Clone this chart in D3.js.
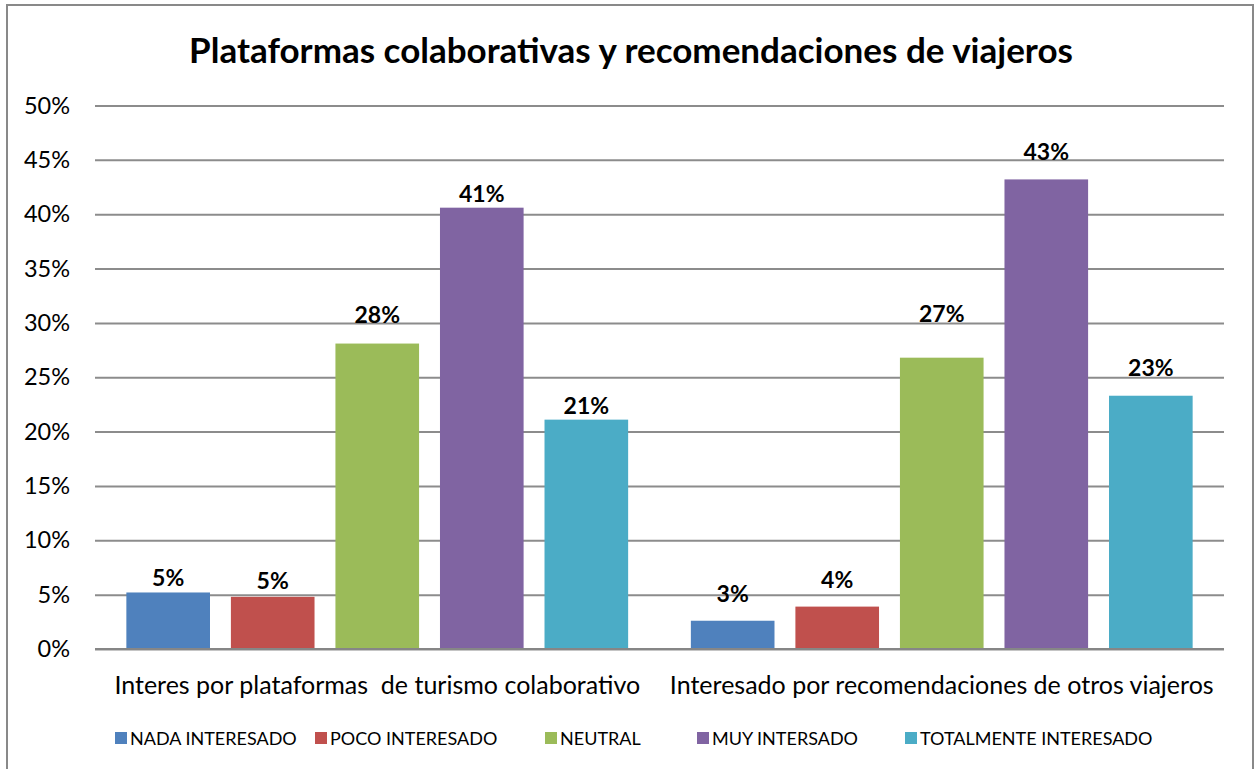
<!DOCTYPE html>
<html>
<head>
<meta charset="utf-8">
<script src="https://cdn.jsdelivr.net/npm/d3@7"></script>
<style>
  body { margin: 0; background: #fff; }
  svg { font-family: Lato, "Open Sans", sans-serif; }
</style>
</head>
<body>
<svg id="chart" width="1256" height="769"></svg>
<script>
// data
const categories = ['Interes por plataformas  de turismo colaborativo', 'Interesado por recomendaciones de otros viajeros'];
const seriesNames = ['NADA INTERESADO', 'POCO INTERESADO', 'NEUTRAL', 'MUY INTERSADO', 'TOTALMENTE INTERESADO'];
const seriesColors = ['#4F81BD', '#C0504D', '#9BBB59', '#8064A2', '#4BACC6'];
const nadaValues = [0.052, 0.026];
const pocoValues = [0.048, 0.039];
const neutralValues = [0.281, 0.268];
const muyValues = [0.406, 0.432];
const totalValues = [0.211, 0.233];
const yTicks = [0, 0.05, 0.10, 0.15, 0.20, 0.25, 0.30, 0.35, 0.40, 0.45, 0.50];

const seriesValues = [nadaValues, pocoValues, neutralValues, muyValues, totalValues];

const svg = d3.select('#chart');
const W = 1256, H = 769;
const margin = { top: 105.5, right: 32, bottom: 120, left: 95 };
const width = W - margin.left - margin.right;
const height = 649 - margin.top;

// outer border
svg.append('rect')
    .attr('x', 7).attr('y', 5)
    .attr('width', 1246).attr('height', 780)
    .attr('fill', 'none')
    .attr('stroke', '#898989')
    .attr('stroke-width', 2);

// title
svg.append('text')
    .attr('x', 631)
    .attr('y', 63)
    .attr('text-anchor', 'middle')
    .attr('font-size', '35px')
    .attr('font-weight', 'bold')
    .attr('fill', '#000')
    .text('Plataformas colaborativas y recomendaciones de viajeros');

const g = svg.append('g')
    .attr('transform', `translate(${margin.left},${margin.top})`);

const x0 = d3.scaleBand()
    .domain(categories)
    .range([0, width])
    .padding(0);

const x1 = d3.scaleBand()
    .domain(seriesNames)
    .range([0, x0.bandwidth()])
    .paddingInner(0.2)
    .paddingOuter(0.3);

const y = d3.scaleLinear()
    .domain([0, 0.5])
    .range([height, 0]);

// gridlines + y axis
const yAxis = g.append('g')
    .call(d3.axisLeft(y).tickValues(yTicks).tickSize(-width).tickFormat(d3.format('.0%')).tickPadding(25));
yAxis.select('.domain').remove();
yAxis.selectAll('.tick line')
    .attr('stroke', '#8c8c8c')
    .attr('stroke-width', 2);
yAxis.selectAll('.tick text')
    .attr('font-size', '23.5px')
    .attr('font-family', 'Lato, sans-serif')
    .attr('fill', '#000');

// bars
const rows = [];
categories.forEach((c, ci) => {
    seriesNames.forEach((s, si) => {
        rows.push({ cat: c, series: s, ci: ci, si: si, value: seriesValues[si][ci], color: seriesColors[si] });
    });
});

g.selectAll('rect.bar')
    .data(rows)
    .enter()
    .append('rect')
    .attr('class', 'bar')
    .attr('x', d => x0(d.cat) + x1(d.series))
    .attr('y', d => y(d.value))
    .attr('width', x1.bandwidth())
    .attr('height', d => height - y(d.value))
    .attr('fill', d => d.color);

// bar labels (hand-placed in the original, so lift varies per bar)
const labelLift = [[6, 8, 21, 6, 6], [19, 19, 36, 19, 20]];
g.selectAll('text.label')
    .data(rows)
    .enter()
    .append('text')
    .attr('class', 'label')
    .attr('x', d => x0(d.cat) + x1(d.series) + x1.bandwidth() / 2)
    .attr('y', d => y(d.value) - labelLift[d.ci][d.si])
    .attr('text-anchor', 'middle')
    .attr('font-size', '23px')
    .attr('font-weight', 'bold')
    .text(d => d3.format('.0%')(d.value));

// x axis line at 0%
g.append('line')
    .attr('x1', 0).attr('x2', width)
    .attr('y1', height).attr('y2', height)
    .attr('stroke', '#868686')
    .attr('stroke-width', 2);

// category labels
g.selectAll('text.cat')
    .data(categories)
    .enter()
    .append('text')
    .attr('class', 'cat')
    .attr('x', d => x0(d) + x0.bandwidth() / 2)
    .attr('y', height + 45)
    .attr('text-anchor', 'middle')
    .attr('font-size', '25px')
    .attr('xml:space', 'preserve')
    .style('white-space', 'pre')
    .text(d => d);

// legend
const legendX = [115, 315, 545, 697, 905];
const legend = svg.append('g');
seriesNames.forEach((s, i) => {
    const item = legend.append('g')
        .attr('transform', `translate(${legendX[i]},738)`);
    item.append('rect')
        .attr('x', 0).attr('y', -6)
        .attr('width', 12).attr('height', 12)
        .attr('fill', seriesColors[i]);
    item.append('text')
        .attr('x', 15)
        .attr('y', 7)
        .attr('font-size', '18px')
        .text(s);
});
</script>
</body>
</html>
